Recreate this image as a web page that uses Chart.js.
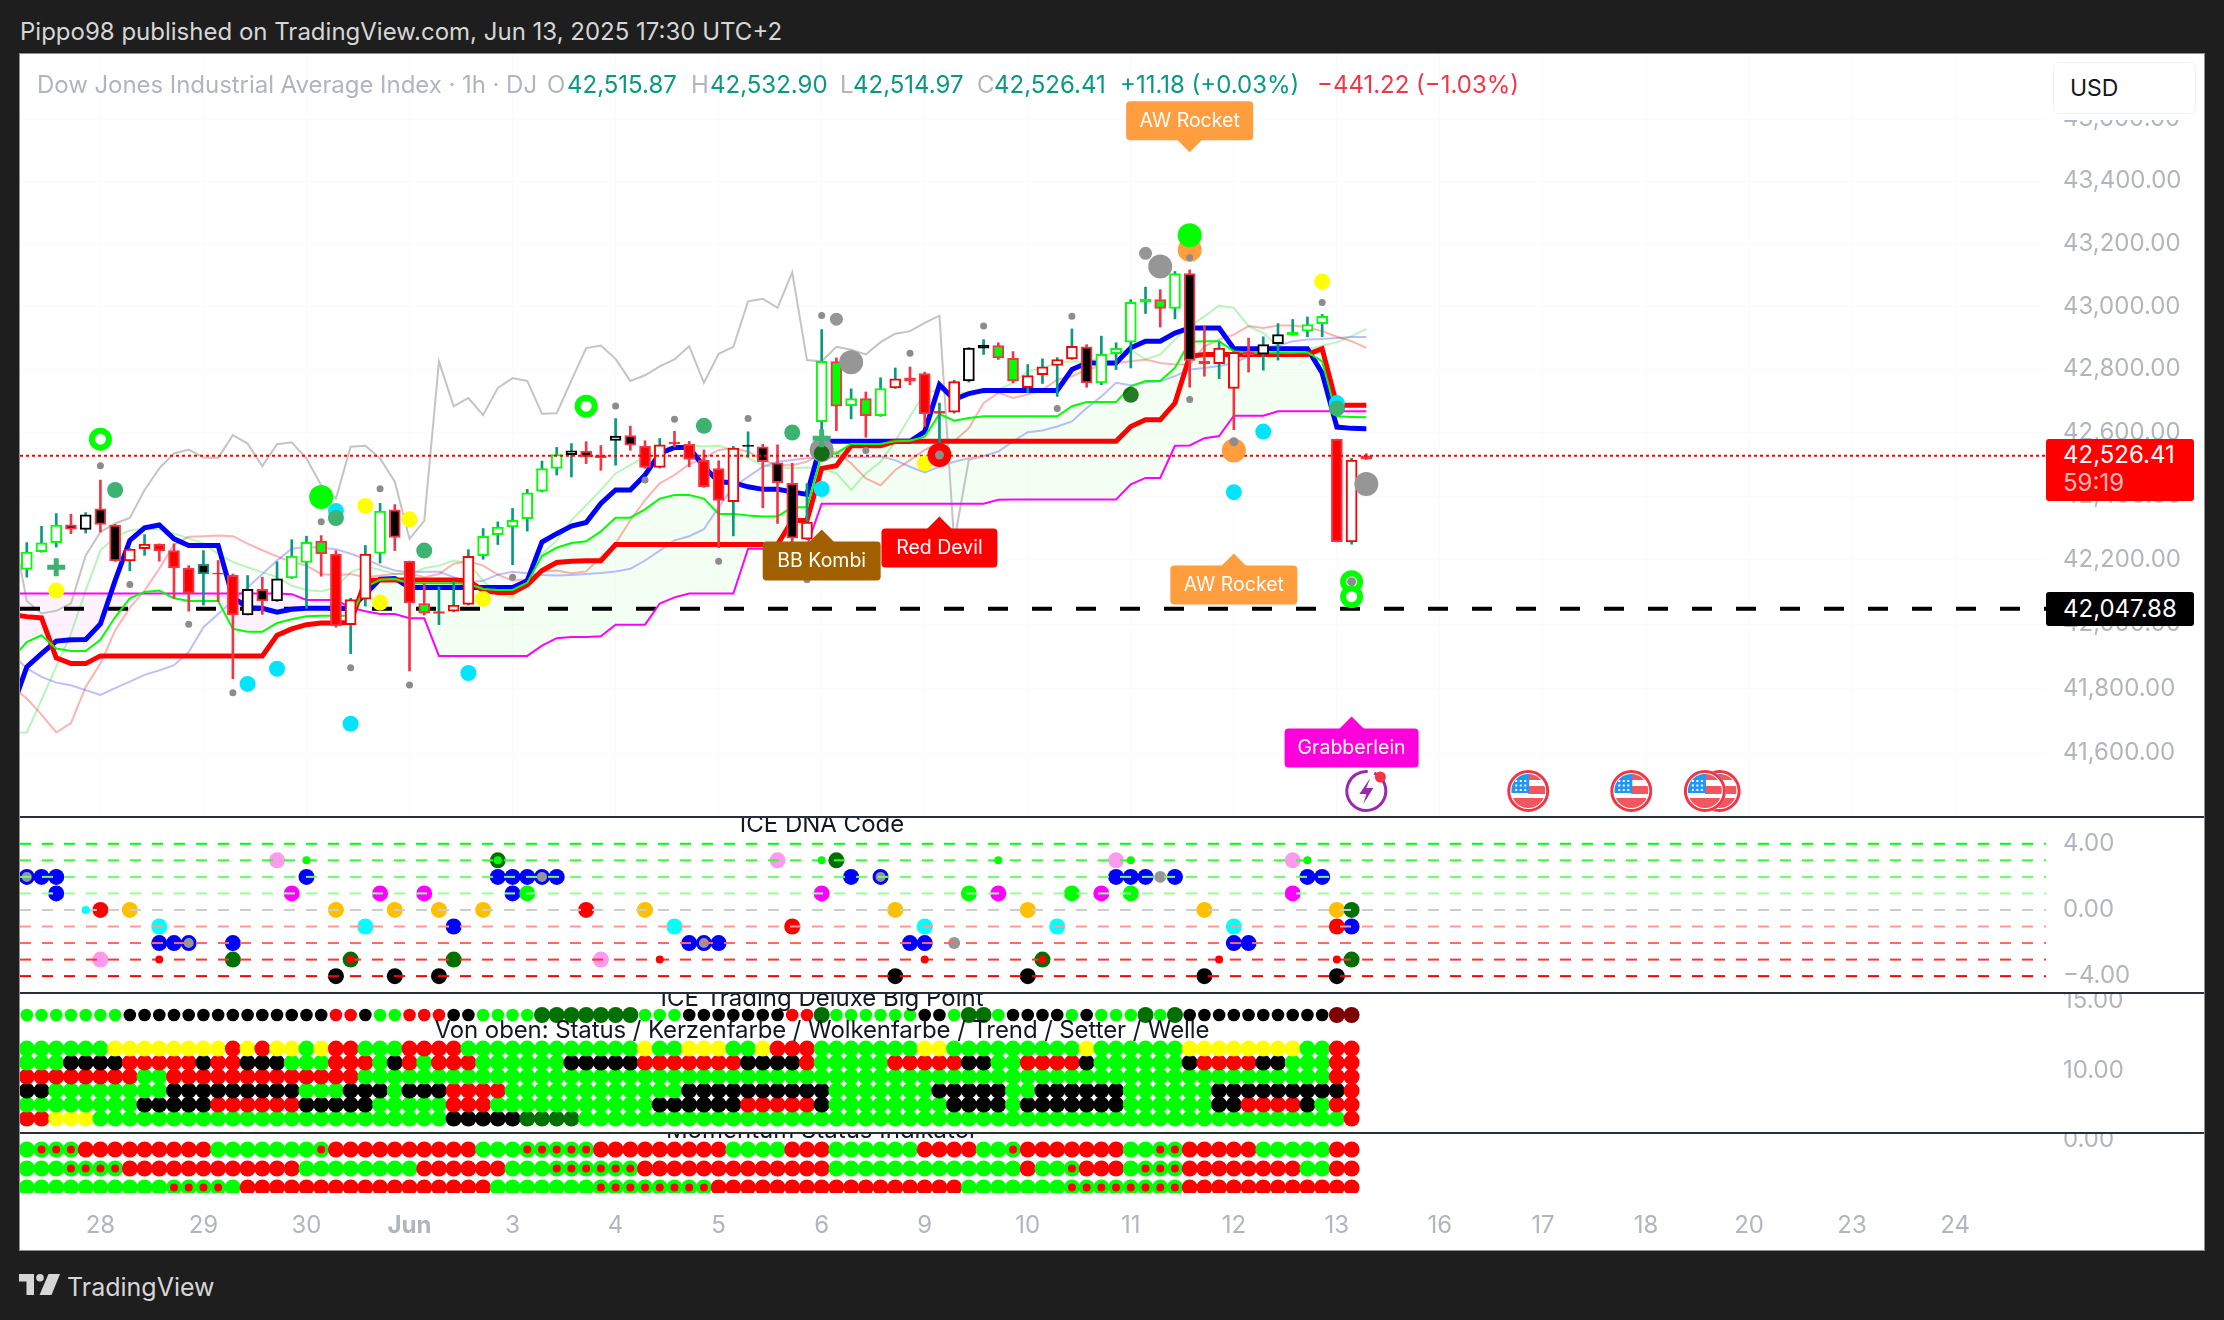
<!DOCTYPE html>
<html lang="en">
<head>
<meta charset="UTF-8">
<title>Dow Jones Industrial Average Index - 1h</title>
<script src="https://cdn.jsdelivr.net/npm/chart.js"></script>
<style>
    html, body { margin: 0; padding: 0; background: #1e1e1e; }
    body { width: 2224px; height: 1320px; position: relative; overflow: hidden; font-family: Inter, "Liberation Sans", sans-serif; }
    canvas { position: absolute; left: 20px; display: block; }
    #frame { position: absolute; left: 20px; top: 54px; width: 2184px; height: 1196px; background: #fff; outline: 1px solid #8f8f8f; }
    .abs { position: absolute; white-space: nowrap; }
    .divider { position: absolute; left: 20px; width: 2184px; height: 2px; background: #2a2e39; }
    .clip { position: absolute; left: 20px; width: 2184px; overflow: hidden; pointer-events: none; }
    .title { position: absolute; left: 0; width: 1604px; text-align: center; color: #131722; font-size: 24px; line-height: 28px; white-space: nowrap; }
    .legend { position: absolute; top: 71px; font-size: 24px; line-height: 28px; white-space: nowrap; color: #b2b5be; }
    .tag { position: absolute; left: 2046px; width: 148px; border-radius: 3px; color: #fff; font-size: 24px; }
    .tag div { position: absolute; left: 17px; white-space: nowrap; line-height: 28px; }
</style>
</head>
<body>
<div id="frame"></div>
<canvas id="mainPane" width="2184" height="763" style="top:54px"></canvas>
<canvas id="dnaPane" width="2184" height="176" style="top:817px"></canvas>
<canvas id="bigPointPane" width="2184" height="140" style="top:993px"></canvas>
<canvas id="momentumPane" width="2184" height="117" style="top:1133px"></canvas>

<div class="divider" style="top:816px"></div>
<div class="divider" style="top:992px"></div>
<div class="divider" style="top:1132px"></div>

<div class="clip" style="top:818px;height:60px"><div class="title" style="top:-8px">ICE DNA Code</div></div>
<div class="clip" style="top:994px;height:60px"><div class="title" style="top:-10px">ICE Trading Deluxe Big Point</div></div>
<div class="clip" style="top:994px;height:60px"><div class="title" style="top:22px;letter-spacing:-0.1px">Von oben: Status / Kerzenfarbe / Wolkenfarbe / Trend / Setter / Welle</div></div>
<div class="clip" style="top:1134px;height:20px"><div class="title" style="top:-18px">Momentum Status Indikator</div></div>

<div class="abs" style="left:20px;top:18px;font-size:24px;line-height:28px;color:#d6d6d6">Pippo98 published on TradingView.com, Jun 13, 2025 17:30 UTC+2</div>

<div class="legend" style="left:37px;letter-spacing:-0.05px">Dow Jones Industrial Average Index · 1h · DJ</div>
<div class="legend" style="left:547px">O</div><div class="legend" style="left:567px;color:#089981">42,515.87</div>
<div class="legend" style="left:691px">H</div><div class="legend" style="left:710px;color:#089981">42,532.90</div>
<div class="legend" style="left:840px">L</div><div class="legend" style="left:853px;color:#089981">42,514.97</div>
<div class="legend" style="left:977px">C</div><div class="legend" style="left:994px;color:#089981">42,526.41</div>
<div class="legend" style="left:1120px;color:#089981">+11.18 (+0.03%)</div>
<div class="legend" style="left:1317px;color:#f23645">−441.22 (−1.03%)</div>

<div class="abs" style="left:2050px;top:60px;width:150px;height:60px;background:#fff"></div>
<div class="abs" style="left:2053px;top:62px;width:141px;height:50px;background:#fff;border:1px solid #f0f3fa;border-radius:6px"></div>
<div class="abs" style="left:2070px;top:74px;font-size:23px;line-height:28px;color:#131722">USD</div>

<div class="tag" style="top:439px;height:62px;background:#ff0000">
    <div style="top:2px">42,526.41</div>
    <div style="top:30px;color:rgba(255,255,255,.72)">59:19</div>
</div>
<div class="tag" style="top:592px;height:34px;background:#000000">
    <div style="top:3px">42,047.88</div>
</div>

<svg class="abs" style="left:19px;top:1274px" width="42" height="21" viewBox="0 0 42 21">
    <path fill="#d6d6d6" d="M0 0H15V21H7.5V7.5H0Z"/>
    <circle fill="#d6d6d6" cx="21" cy="3.8" r="3.8"/>
    <path fill="#d6d6d6" d="M29.5 0H41L32.5 21H20.5Z"/>
</svg>
<div class="abs" style="left:67px;top:1272px;font-size:25px;line-height:30px;color:#d6d6d6">TradingView</div>

<script>
// bar numbers of the day labels along the time axis
const dayBars = [5, 12, 19, 26, 33, 40, 47, 54, 61, 68, 75, 82, 89, 96, 103, 110, 117, 124, 131];
const dayLabels = ['28', '29', '30', 'Jun', '3', '4', '5', '6', '9', '10', '11', '12', '13', '16', '17', '18', '20', '23', '24'];

const priceTicks = [43600, 43400, 43200, 43000, 42800, 42600, 42400, 42200, 42000, 41800, 41600];
const dnaTicks = [4, 0, -4];
const bigPointTicks = [15, 10];
const momentumTicks = [0];

const lastClose = 42526.41;
const levelLine = 42047.88;

// candles, one value per bar
const candleHigh = [
    42254,42305,42345,42343,42348,42450,42311,42235,42279,42250,
    42250,42182,42229,42198,42156,42151,42146,42194,42263,42274,
    42276,42229,42080,42245,42377,42373,42196,42125,42116,42133,
    42232,42298,42319,42361,42421,42510,42553,42565,42571,42559,
    42644,42620,42574,42581,42604,42572,42545,42511,42556,42602,
    42563,42561,42503,42439,42926,42836,42738,42728,42773,42804,
    42807,42791,42693,42765,42869,42894,42884,42856,42815,42833,
    42837,42928,42878,42905,42884,43021,43061,43053,43111,43116,
    42937,42886,42856,42899,42903,42945,42958,42966,42974,42579,
    42519,42532.90];
const bodyTop = [
    42224,42253,42309,42310,42341,42360,42309,42234,42249,42249,
    42229,42174,42186,42159,42152,42108,42108,42141,42212,42255,
    42259,42218,42076,42218,42353,42357,42196,42064,42039,42059,
    42211,42274,42303,42324,42410,42486,42530,42542,42541,42527,
    42589,42590,42557,42561,42569,42563,42513,42486,42551,42560,
    42555,42504,42440,42318,42825,42824,42707,42707,42739,42770,
    42773,42786,42667,42761,42867,42877,42875,42835,42780,42808,
    42831,42873,42871,42847,42866,43013,43023,43021,43104,43104,
    42826,42867,42854,42856,42878,42910,42917,42942,42968,42579,
    42513,42526.41];
const bodyBottom = [
    42170,42226,42254,42296,42295,42311,42197,42197,42235,42228,
    42175,42096,42156,42155,42028,42028,42072,42072,42144,42192,
    42219,41994,41998,42077,42220,42270,42066,42034,42033,42040,
    42061,42213,42279,42303,42329,42415,42487,42530,42523,42521,
    42575,42560,42490,42490,42564,42515,42429,42386,42382,42556,
    42508,42442,42268,42265,42634,42683,42685,42653,42653,42741,
    42762,42659,42660,42664,42763,42867,42836,42763,42742,42783,
    42812,42833,42757,42757,42849,42886,43013,42993,42993,42828,
    42817,42818,42739,42846,42848,42881,42909,42921,42945,42256,
    42256,42515.87];
const candleLow = [
    42146,42224,42240,42282,42284,42287,42195,42166,42214,42196,
    42080,42040,42059,42070,41830,42028,42030,42070,42142,42049,
    42149,41990,41908,42056,42190,42229,41854,42028,41998,42038,
    42059,42202,42248,42185,42290,42413,42466,42460,42502,42481,
    42497,42544,42487,42488,42555,42492,42427,42238,42275,42522,
    42363,42314,42175,42263,42602,42606,42643,42585,42651,42739,
    42751,42619,42561,42661,42759,42847,42831,42757,42725,42755,
    42714,42831,42743,42751,42799,42804,42977,42934,42960,42743,
    42778,42770,42609,42791,42797,42829,42908,42903,42903,42256,
    42249,42514.97];
// first letter = body state, second = edge state
const candleStates = [
    'hg','hg','hg','kr','hk','kr','kr','hR','hR','rr',
    'rr','rr','kt','rr','rr','hk','kr','hk','hg','hg',
    'gr','rr','hR','hR','hg','kr','rr','gr','rr','hR',
    'hR','hg','hg','hg','hg','hg','hg','hk','kr','rr',
    'hk','kr','rr','hR','rr','rr','rr','rr','hR','kk',
    'kr','kr','kr','hR','hg','gr','hg','gr','hg','hR',
    'rr','rr','rr','hR','hk','kk','gr','gr','hR','hR',
    'hR','hR','kr','hg','hg','hg','gg','gr','hg','kr',
    'rr','hR','hR','rr','hk','hk','gg','hg','hg','rr',
    'hR','rr'];
const wickStates = [
    't','t','t','r','t','r','r','t','t','r',
    'r','r','t','r','r','t','r','t','t','t',
    'r','r','t','t','t','r','r','r','t','t',
    't','t','t','t','t','t','t','t','r','r',
    't','r','r','t','r','r','r','r','t','t',
    'r','r','r','t','t','r','t','r','t','t',
    'r','r','t','t','t','t','r','r','t','t',
    't','t','r','t','t','t','t','r','t','r',
    'r','t','r','r','t','t','t','t','t','r',
    't','r'];

// indicator lines, first value belongs to bar -1 (just off the left edge)
const tenkan = [41739,
    41867,41908,41947,41951,41952,42000,42135,42261,42300,42309,
    42266,42245,42245,42245,42083,42051,42049,42037,42046,42049,
    42049,42049,42049,42093,42140,42142,42114,42114,42114,42114,
    42114,42114,42114,42114,42135,42256,42282,42306,42317,42377,
    42419,42419,42466,42534,42553,42553,42492,42445,42442,42429,
    42421,42421,42413,42405,42572,42572,42572,42572,42572,42572,
    42572,42603,42751,42704,42723,42733,42733,42733,42733,42733,
    42733,42799,42820,42820,42820,42868,42889,42889,42915,42931,
    42931,42931,42865,42865,42865,42865,42865,42865,42788,42617,
    42613,42612];
const kijun = [42029,
    42023,42019,41895,41877,41877,41901,41901,41901,41901,41901,
    41901,41901,41901,41901,41901,41901,41901,41965,41985,41998,
    42003,42003,42005,42135,42137,42137,42137,42137,42137,42137,
    42135,42104,42098,42098,42122,42167,42192,42196,42197,42197,
    42248,42248,42248,42248,42248,42248,42248,42248,42248,42248,
    42248,42248,42323,42323,42487,42495,42558,42558,42558,42572,
    42572,42572,42572,42572,42572,42572,42572,42572,42572,42572,
    42572,42572,42572,42572,42572,42619,42640,42640,42693,42841,
    42847,42847,42847,42847,42847,42847,42847,42847,42865,42686,
    42686,42686];
const spanA = [41892,
    41944,41965,41924,41916,41916,41951,42021,42080,42100,42104,
    42080,42072,42072,42072,41985,41976,41976,42003,42015,42024,
    42026,42026,42026,42114,42138,42140,42127,42127,42127,42127,
    42125,42109,42106,42106,42129,42212,42238,42253,42258,42289,
    42332,42332,42358,42392,42403,42403,42392,42344,42344,42339,
    42336,42336,42365,42365,42529,42534,42564,42564,42564,42572,
    42574,42587,42658,42637,42646,42651,42651,42651,42651,42651,
    42651,42683,42696,42696,42696,42746,42763,42763,42804,42887,
    42889,42889,42857,42852,42852,42852,42852,42854,42825,42651,
    42649,42648];
const spanB = [42095,
    42095,42095,42095,42095,42095,42095,42095,42095,42095,42095,
    42095,42095,42095,42095,42095,42095,42095,42095,42093,42075,
    42075,42075,42051,42040,42031,42031,42018,42018,41901,41901,
    41901,41901,41901,41901,41901,41933,41956,41960,41960,41962,
    41998,41998,41998,42064,42083,42095,42095,42095,42095,42235,
    42235,42235,42238,42244,42376,42376,42376,42376,42376,42376,
    42376,42376,42376,42376,42376,42376,42388,42389,42389,42389,
    42389,42389,42389,42389,42389,42437,42457,42457,42558,42559,
    42582,42589,42653,42653,42653,42667,42667,42667,42667,42667,
    42667,42667];
const paleRed = [41805,
    41769,41719,41664,41693,41805,41877,41980,42051,42104,42172,
    42248,42272,42274,42276,42274,42251,42230,42211,42193,42182,
    42156,42151,42156,42146,42151,42156,42158,42146,42156,42188,
    42196,42182,42154,42135,42140,42164,42167,42158,42164,42209,
    42251,42324,42387,42440,42466,42500,42519,42545,42550,42540,
    42513,42497,42497,42508,42534,42540,42503,42455,42434,42482,
    42513,42545,42568,42572,42614,42693,42725,42709,42720,42735,
    42767,42778,42799,42810,42820,42825,42831,42820,42815,42815,
    42873,42894,42910,42937,42931,42939,42939,42933,42921,42903,
    42889,42868];
const paleGreen = [41664,
    41664,41765,41867,41970,42104,42229,42272,42292,42298,42295,
    42282,42268,42251,42219,42193,42177,42161,42146,42119,42106,
    42101,42114,42161,42179,42169,42156,42156,42174,42182,42198,
    42190,42135,42093,42083,42135,42219,42261,42324,42371,42419,
    42471,42497,42524,42550,42555,42560,42556,42558,42545,42519,
    42497,42490,42487,42490,42487,42471,42420,42471,42508,42572,
    42651,42725,42735,42725,42725,42725,42735,42757,42794,42804,
    42820,42825,42822,42841,42852,42862,42831,42847,42894,42937,
    42968,43002,42995,42937,42915,42873,42868,42862,42875,42886,
    42905,42928];
const paleBlue = [41908,
    41862,41836,41818,41810,41795,41780,41801,41821,41842,41856,
    41872,41913,41990,42031,42072,42114,42156,42198,42235,42240,
    42238,42233,42219,42203,42182,42167,42161,42163,42163,42146,
    42130,42135,42154,42163,42158,42153,42151,42153,42156,42159,
    42164,42172,42198,42229,42261,42274,42296,42365,42429,42460,
    42492,42508,42513,42519,42522,42522,42522,42522,42524,42513,
    42492,42474,42492,42508,42519,42526,42540,42572,42601,42606,
    42619,42635,42677,42714,42757,42749,42757,42762,42778,42799,
    42804,42810,42820,42841,42868,42875,42889,42894,42896,42899,
    42902,42902];
const laggingLine = [42311,
    42072,42033,42041,42064,42214,42287,42314,42331,42419,42487,
    42534,42546,42521,42520,42592,42565,42494,42563,42569,42518,
    42434,42392,42555,42558,42518,42445,42266,42322,42825,42683,
    42709,42655,42741,42772,42763,42659,42661,42765,42867,42875,
    42833,42763,42781,42809,42831,42873,42757,42849,42871,43016,
    43024,42995,43108,42829,42825,42871,42862,42847,42886,42913,
    42921,42947,42970,42256,42515,42524];

// marker dots as [bar, price]
const smallGreyDots = [[5,42495],[7,42123],[11,41999],[14,41787],[20,42319],[22,41864],[24,42423],[26,41811],[33,42146],[40,42684],[42,42450],[44,42642],[47,42196],[49,42644],[53,42138],[54,42971],[57,42543],[60,42851],[65,42937],[70,42676],[71,42968],[79,43156],[79,42704],[88,43012]];
const mediumGreyDots = [[55,42959],[76,43169]];
const bigGreyDots = [[56,42822],[77,43127],[54,42545],[91,42438]];
const cyanDots = [[21,42353],[15,41814],[17,41861],[22,41691],[30,41848],[54,42422],[84,42603],[82,42412],[89,42693]];
const seaGreenDots = [[6,42419],[21,42331],[27,42229],[46,42621],[52,42600],[89,42676]];
const darkGreenDots = [[75,42719],[54,42534]];
const yellowDots = [[2,42104],[23,42369],[26,42327],[24,42067],[31,42078],[61,42503],[88,43079]];
const orangeDots = [[79,43180],[82,42543]];
const limeDots = [[20,42397],[79,43227]];
const redDots = [[62,42529]];
const plusMarks = [[2,42177],[54,42582]];
const ringMarks = [[5,42579],[38,42683],[90,42132],[90,42085]];
const topGreyDots = [[62,42529],[82,42571],[90,42132]];

// callouts: text, bar, price of the tip
const calloutTexts = ['AW Rocket', 'BB Kombi', 'Red Devil', 'AW Rocket', 'Grabberlein'];
const calloutBars = [79, 54, 62, 82, 90];
const calloutTips = [43493, 42295, 42336, 42220, 41713];
const eventBars = [102, 109, 115, 114];
const boltBar = 91;

// ICE DNA Code dots as [bar, level]
const dnaLevels = [4, 3, 2, 1, 0, -1, -2, -3, -4];
const dnaBlue = [[1,2],[2,2],[2,1],[19,2],[32,2],[33,2],[34,2],[36,2],[33,1],[9,-2],[10,-2],[14,-2],[45,-2],[29,-1],[47,-2],[56,2],[74,2],[75,2],[76,2],[78,2],[87,2],[88,2],[60,-2],[61,-2],[82,-2],[83,-2],[90,-1]];
const dnaGreyBlue = [[0,2],[35,2],[11,-2],[46,-2],[58,2]];
const dnaGrey = [[77,2],[63,-2]];
const dnaCyan = [[9,-1],[23,-1],[44,-1],[61,-1],[70,-1],[82,-1]];
const dnaAmber = [[7,0],[21,0],[25,0],[28,0],[31,0],[42,0],[59,0],[68,0],[80,0],[89,0]];
const dnaRed = [[5,0],[38,0],[52,-1],[89,-1]];
const dnaMagenta = [[18,1],[24,1],[27,1],[54,1],[66,1],[73,1],[86,1]];
const dnaPink = [[17,3],[51,3],[74,3],[86,3],[5,-3],[39,-3]];
const dnaLime = [[34,1],[64,1],[71,1],[75,1]];
const dnaDarkGreen = [[32,3],[55,3],[14,-3],[22,-3],[29,-3],[69,-3],[90,-3],[90,0]];
const dnaBlack = [[21,-4],[25,-4],[28,-4],[59,-4],[68,-4],[80,-4],[89,-4]];
const dnaSmallGreen = [[19,3],[32,3],[54,3],[66,3],[75,3],[87,3]];
const dnaSmallRed = [[9,-3],[22,-3],[43,-3],[61,-3],[69,-3],[81,-3],[89,-3]];
const dnaSmallCyan = [[4,0]];

// big point rows, read bar by bar and kept as runs of state + count
const bigPointLevels = [14, 11.6, 10.6, 9.6, 8.6, 7.6, 6.6];
const rowBigPoint = 'g7 k14 r2 k1 g2 r3 k2 g4 d7 g3 k7 r2 d1 g6 k2 g1 d2 g1 k4 g1 k1 g3 d1 g1 d1 k10 m2';
const rowStatus = 'g6 y8 r1 y1 r1 y2 g1 y1 r2 g3 r4 g12 y1 g2 y3 g2 y1 r3 g7 y2 g9 y1 g6 y8 g2 r2';
const rowCandleColor = 'g3 k4 r5 k1 r2 k3 g3 r3 g1 k1 r1 g1 r3 g6 k5 r7 k4 r1 g5 r5 k2 g2 r4 k1 g6 k1 r4 k2 g3 r2';
const rowCloudColor = 'r8 g2 r13 g66 r2';
const rowTrend = 'k2 g8 k9 g3 k3 g1 k3 r4 g12 k10 g7 k5 g2 k6 g6 k9 r1';
const rowSetter = 'g8 k5 r6 k5 g5 r3 g11 k6 r5 k1 g8 k4 g1 k7 g6 k2 r4 k1 g1 r2';
const rowWave = 'r2 y3 g24 k5 d4 g52 r1';

// momentum rows, n = green dot with a red core
const momentumLevels = [-0.5, -1.5, -2.5];
const rowMomentumA = 'g1 n3 r9 g7 n1 r10 g3 n5 r9 g4 r3 g6 r4 g2 n1 r7 g2 n2 r5 g5 r2';
const rowMomentumB = 'g3 n4 r12 g8 r6 g3 n6 r13 g13 r1 g2 n1 r3 g1 n3 r8 g2 r2';
const rowMomentumC = 'g10 n4 g1 r17 g7 n8 r17 g7 n8 r12';

// ---------- styling and helpers ----------
const uiFont = 'Inter, "Liberation Sans", sans-serif';
const tickColor = '#b2b5be';
const xMin = -6.8 / 14.72;
const xMax = (2046 - 26.8) / 14.72;
const axisWidth = 158;

const stateColors = { g: '#00ff00', k: '#000000', r: '#ff0000', y: '#ffff00', d: '#007000', m: '#7f0000', n: '#00ff00' };
const bodyFills = { h: '#ffffff', k: '#000000', r: '#ff0000', g: '#00ff00' };
const bodyEdges = { g: '#00ff00', k: '#000000', r: '#f23645', R: '#ff0000', t: '#089981' };
const wickColors = { t: '#089981', r: '#f23645' };
const levelColors = ['#00ff00', '#33ff33', '#66ff66', '#99ff99', '#cccccc', '#ff9999', '#ff6666', '#ff3333', '#ff0000'];

function expandRuns(text) {
    const out = [];
    text.split(' ').forEach(run => {
        for (let n = Number(run.slice(1)); n > 0; n--) out.push(run[0]);
    });
    return out;
}

function formatPrice(v) {
    return v.toLocaleString('en-US', { minimumFractionDigits: 2, maximumFractionDigits: 2 });
}

function formatPlain(v) {
    return (v < 0 ? '\u2212' : '') + Math.abs(v).toFixed(2);
}

let zOrder = 60;
function dots(pairs, color, radius, extra) {
    return Object.assign({
        type: 'line', showLine: false, order: zOrder--,
        data: pairs.map(p => ({ x: p[0], y: p[1] })),
        pointRadius: radius, pointBackgroundColor: color, pointBorderWidth: 0
    }, extra);
}

function line(values, color, width, order, extra) {
    return Object.assign({
        type: 'line', order: order, borderColor: color, borderWidth: width,
        pointRadius: 0, tension: 0, fill: false,
        data: values.map((y, i) => ({ x: i - 1, y: y }))
    }, extra);
}

function flatLine(value, color, width, dash, order) {
    return {
        type: 'line', order: order, borderColor: color, borderWidth: width, borderDash: dash,
        pointRadius: 0, fill: false,
        data: [{ x: xMin, y: value }, { x: xMax, y: value }]
    };
}

// scales must not push the plot area in for their tick labels
function dropScalePadding(s) {
    s.paddingTop = s.paddingBottom = s.paddingLeft = s.paddingRight = 0;
}

function timeAxis(extra) {
    return Object.assign({
        type: 'linear', min: xMin, max: xMax, display: false, offset: false,
        afterBuildTicks: s => { s.ticks = dayBars.map(v => ({ value: v })); }
    }, extra);
}

function valueAxis(type, min, max, ticks, format, grid) {
    return {
        type: type, position: 'right', min: min, max: max, bounds: 'data',
        border: { display: false },
        grid: grid ? { color: grid, drawTicks: false } : { display: false, drawTicks: false },
        afterBuildTicks: s => { s.ticks = ticks.map(v => ({ value: v })); },
        afterFit: s => { s.width = axisWidth; dropScalePadding(s); },
        ticks: {
            color: tickColor, padding: 17, autoSkip: false,
            font: { family: uiFont, size: 24 },
            callback: v => format(v)
        }
    };
}

function paneOptions(scales) {
    return {
        responsive: false, animation: false, devicePixelRatio: 1, events: [],
        layout: { padding: 0, autoPadding: false },
        plugins: { legend: { display: false }, tooltip: { enabled: false } },
        scales: scales
    };
}

// callouts and the event icons along the bottom of the price pane
const overlayPlugin = {
    id: 'overlay',
    afterDatasetsDraw(chart) {
        const ctx = chart.ctx, xs = chart.scales.x, ys = chart.scales.y;
        const fills = ['#ff9d3f', '#a06000', '#ff0000', '#ff9d3f', '#ff00dd'];
        const widths = [127, 118, 116, 127, 134];
        calloutTexts.forEach((text, i) => {
            const cx = xs.getPixelForValue(calloutBars[i]);
            const tip = ys.getPixelForValue(calloutTips[i]);
            const above = i === 0;
            const boxTop = above ? tip - 51 : tip + 12;
            ctx.save();
            ctx.fillStyle = fills[i];
            ctx.beginPath();
            ctx.roundRect(cx - widths[i] / 2, boxTop, widths[i], 39, 4);
            ctx.fill();
            ctx.beginPath();
            ctx.moveTo(cx, tip);
            ctx.lineTo(cx - 13, above ? tip - 13 : tip + 13);
            ctx.lineTo(cx + 13, above ? tip - 13 : tip + 13);
            ctx.closePath();
            ctx.fill();
            ctx.fillStyle = '#ffffff';
            ctx.font = '19.5px ' + uiFont;
            ctx.textAlign = 'center';
            ctx.textBaseline = 'middle';
            ctx.fillText(text, cx, boxTop + 20);
            ctx.restore();
        });
        const cy = chart.chartArea.bottom - 26;
        eventBars.forEach(bar => drawFlag(ctx, xs.getPixelForValue(bar), cy));
        drawBolt(ctx, xs.getPixelForValue(boltBar), cy);
    }
};

function drawFlag(ctx, x, y) {
    const r = 17;
    ctx.save();
    ctx.beginPath();
    ctx.arc(x, y, 21, 0, Math.PI * 2);
    ctx.fillStyle = '#ffffff';
    ctx.fill();
    ctx.beginPath();
    ctx.arc(x, y, 19.5, 0, Math.PI * 2);
    ctx.strokeStyle = '#f23645';
    ctx.lineWidth = 3;
    ctx.stroke();
    ctx.beginPath();
    ctx.arc(x, y, r, 0, Math.PI * 2);
    ctx.clip();
    ctx.fillStyle = '#f2575f';
    ctx.fillRect(x, y - r, r, 6);
    ctx.fillRect(x, y - 5, r, 8);
    ctx.fillRect(x - r, y + 7, 2 * r, r);
    ctx.fillStyle = '#2196f3';
    ctx.fillRect(x - r, y - r, r + 1, r + 2);
    ctx.fillStyle = '#ffffff';
    for (let a = 0; a < 3; a++) {
        for (let b = 0; b < 3; b++) ctx.fillRect(x - 13 + a * 4.5, y - 11 + b * 4.5, 2, 2);
    }
    ctx.restore();
}

function drawBolt(ctx, x, y) {
    ctx.save();
    ctx.strokeStyle = '#9c27b0';
    ctx.lineWidth = 3;
    ctx.beginPath();
    ctx.arc(x, y, 19.5, -1.15, Math.PI * 2 - 1.5);
    ctx.stroke();
    ctx.fillStyle = '#9c27b0';
    ctx.beginPath();
    ctx.moveTo(x + 4, y - 13);
    ctx.lineTo(x - 7, y + 3);
    ctx.lineTo(x, y + 3);
    ctx.lineTo(x - 3, y + 13);
    ctx.lineTo(x + 7, y - 3);
    ctx.lineTo(x, y - 3);
    ctx.closePath();
    ctx.fill();
    ctx.fillStyle = '#f23645';
    ctx.beginPath();
    ctx.arc(x + 14, y - 14, 5.5, 0, Math.PI * 2);
    ctx.fill();
    ctx.restore();
}

// ---------- price pane ----------
const barIds = candleHigh.map((v, i) => i);
new Chart(document.getElementById('mainPane'), {
    type: 'line',
    plugins: [overlayPlugin],
    data: {
        datasets: [
            line(spanA, 'rgba(0,0,0,0)', 0, 100, {
                fill: { target: '+1', above: 'rgba(0,255,0,0.05)', below: 'rgba(255,0,255,0.05)' }
            }),
            line(spanB, 'rgba(0,0,0,0)', 0, 101),
            line(paleBlue, 'rgba(40,40,255,0.3)', 2, 95),
            line(paleRed, 'rgba(255,0,0,0.3)', 2, 94),
            line(paleGreen, 'rgba(0,220,0,0.28)', 2, 93),
            line(laggingLine, '#c4c4c4', 2, 92),
            flatLine(levelLine, '#000000', 4, [20, 24], 91),
            line(spanB, '#ff00ff', 2, 90),
            line(tenkan, '#0000ff', 5, 89),
            line(kijun, '#ff0000', 5, 88),
            line(spanA, '#00ff00', 2, 87),
            {
                type: 'bar', order: 80, grouped: false, barThickness: 2,
                data: barIds.map(i => ({ x: i, y: [candleLow[i], candleHigh[i]] })),
                backgroundColor: wickStates.map(s => wickColors[s]),
                borderWidth: 0
            },
            {
                type: 'bar', order: 79, grouped: false, barThickness: 11,
                data: barIds.map(i => ({ x: i, y: [bodyBottom[i], bodyTop[i]] })),
                backgroundColor: candleStates.map(s => bodyFills[s[0]]),
                borderColor: candleStates.map(s => bodyEdges[s[1]]),
                borderWidth: 2, borderSkipped: false
            },
            flatLine(lastClose, '#ff0000', 2, [3, 3], 70),
            dots(cyanDots, '#00e5ff', 8),
            dots(bigGreyDots, '#969696', 12),
            dots(mediumGreyDots, '#969696', 6.5),
            dots(seaGreenDots, '#3cb371', 8),
            dots(darkGreenDots, 'rgba(0,100,0,0.85)', 8),
            dots(yellowDots, '#ffff00', 8),
            dots(orangeDots, '#ff9d3f', 12),
            dots(limeDots, '#00ff00', 12),
            dots(redDots, '#ff0000', 12),
            dots(smallGreyDots, '#8c8c8c', 3.5),
            dots(plusMarks, '#3cb371', 9, { pointStyle: 'cross', pointBorderColor: '#3cb371', pointBorderWidth: 5 }),
            dots(ringMarks, '#ffffff', 8.5, { pointBorderColor: '#00ff00', pointBorderWidth: 6 }),
            dots(topGreyDots, '#8c8c8c', 4.5)
        ]
    },
    options: paneOptions({
        x: timeAxis({
            display: true,
            border: { display: false },
            grid: { color: '#fbfbfc', drawTicks: false, offset: false },
            ticks: { display: false, autoSkip: false },
            afterFit: s => { s.height = 0; dropScalePadding(s); }
        }),
        y: valueAxis('logarithmic', 41404, 43811, priceTicks, formatPrice, '#fbfbfc')
    })
});

// ---------- ICE DNA Code pane ----------
new Chart(document.getElementById('dnaPane'), {
    type: 'line',
    data: {
        datasets: [
            dots(dnaCyan, '#00ffff', 8),
            dots(dnaBlue, '#0000ff', 8),
            dots(dnaGreyBlue, '#969696', 6.5, { pointBorderColor: '#0000ff', pointBorderWidth: 3 }),
            dots(dnaGrey, '#969696', 6),
            dots(dnaAmber, '#ffc000', 8),
            dots(dnaRed, '#ff0000', 8),
            dots(dnaMagenta, '#ff00ff', 8),
            dots(dnaPink, '#ff99ee', 8),
            dots(dnaLime, '#00ff00', 8),
            dots(dnaDarkGreen, '#007000', 8),
            dots(dnaBlack, '#000000', 8),
            ...dnaLevels.map((v, i) => flatLine(v, levelColors[i], 2, [11, 11], 20)),
            { ...dots(dnaSmallGreen, '#00ff00', 4), order: 5 },
            { ...dots(dnaSmallRed, '#ff0000', 4), order: 4 },
            { ...dots(dnaSmallCyan, '#00ffff', 4), order: 3 }
        ]
    },
    options: paneOptions({
        x: timeAxis(),
        y: valueAxis('linear', -5.02, 5.62, dnaTicks, formatPlain)
    })
});

// ---------- ICE Trading Deluxe Big Point pane ----------
const bigPointRows = [rowBigPoint, rowStatus, rowCandleColor, rowCloudColor, rowTrend, rowSetter, rowWave].map(expandRuns);
new Chart(document.getElementById('bigPointPane'), {
    type: 'line',
    data: {
        datasets: bigPointRows.map((states, row) => ({
            type: 'line', showLine: false, order: row === 0 ? 1 : row + 1,
            data: states.map((s, i) => ({ x: i, y: bigPointLevels[row] })),
            pointBackgroundColor: states.map(s => stateColors[s]),
            pointRadius: row === 0 ? states.map(s => (s === 'd' || s === 'm') ? 8 : 6.3) : 8,
            pointBorderWidth: 0
        }))
    },
    options: paneOptions({
        x: timeAxis(),
        y: valueAxis('linear', 5.57, 15.57, bigPointTicks, formatPlain)
    })
});

// ---------- Momentum pane, carries the time axis ----------
const momentumRows = [rowMomentumA, rowMomentumB, rowMomentumC].map(expandRuns);
const momentumCores = [];
momentumRows.forEach((states, row) => {
    states.forEach((s, i) => { if (s === 'n') momentumCores.push([i, momentumLevels[row]]); });
});
new Chart(document.getElementById('momentumPane'), {
    type: 'line',
    data: {
        datasets: [
            ...momentumRows.map((states, row) => ({
                type: 'line', showLine: false, order: 10 + row,
                data: states.map((s, i) => ({ x: i, y: momentumLevels[row] })),
                pointBackgroundColor: states.map(s => stateColors[s]),
                pointRadius: 8, pointBorderWidth: 0
            })),
            { ...dots(momentumCores, '#ff0000', 4), order: 1 }
        ]
    },
    options: paneOptions({
        x: timeAxis({
            display: true,
            border: { display: false },
            grid: { display: false, drawTicks: false },
            afterFit: s => { s.height = 57; dropScalePadding(s); },
            ticks: {
                color: tickColor, autoSkip: false, maxRotation: 0, padding: 18,
                font: c => ({ family: uiFont, size: 24, weight: (c.tick && c.tick.value === 26) ? '700' : '400' }),
                callback: v => dayLabels[dayBars.indexOf(v)]
            }
        }),
        y: valueAxis('linear', -2.79, 0.37, momentumTicks, formatPlain)
    })
});
</script>
</body>
</html>
